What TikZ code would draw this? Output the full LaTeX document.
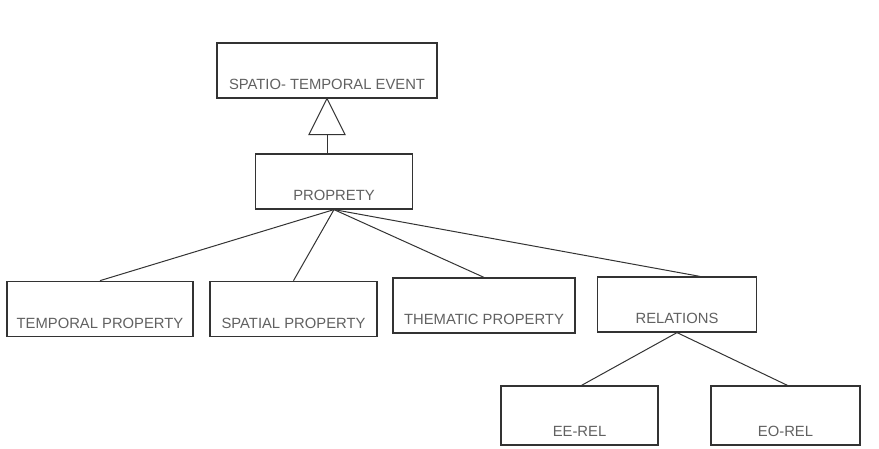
\documentclass[tikz,border=0pt]{standalone}
\usepackage{fontspec}
\setmainfont{Liberation Sans}
\begin{document}
\begin{tikzpicture}[x=1pt,y=-1pt,
  box/.style={draw=black!80, line width=1.2pt, fill=white, inner sep=0pt,
    font=\fontsize{14.8}{16}\selectfont, text=black!62,
    text depth=8.5pt},
  link/.style={draw=black!80, line width=1pt}]
\useasboundingbox (0,0) rectangle (879,449);

% class boxes (width, height); labels sit near the bottom edge
\node[box, minimum width=220pt, text height=46.5pt] (event) at (327,70.5) {SPATIO- TEMPORAL EVENT};
\node[box, minimum width=157pt, text height=46.5pt] (prop) at (334,181.5) {PROPRETY};

\node[box, minimum width=186pt, text height=47pt] (temporal) at (100,309) {TEMPORAL PROPERTY};
\node[box, minimum width=167pt, text height=47pt] (spatial) at (293.5,309) {SPATIAL PROPERTY};
\node[box, minimum width=182pt, text height=46.5pt] (thematic) at (484,305.5) {THEMATIC PROPERTY};
\node[box, minimum width=159pt, text height=46.5pt] (relations) at (677,304.5) {RELATIONS};

\node[box, minimum width=157pt, text height=50.5pt] (eerel) at (579.5,415.5) {EE-REL};
\node[box, minimum width=149pt, text height=50.5pt] (eorel) at (785.5,415.5) {EO-REL};

% generalisation arrow: hollow triangle under the parent
\coordinate (apex) at (event.south);
\coordinate (tribase) at ([yshift=-36pt]event.south);
\draw[link, fill=white] (apex) -- ([xshift=-18pt]tribase) -- ([xshift=18pt]tribase) -- cycle;
\draw[link] (tribase) -- (tribase |- prop.north);

% property branches
\draw[link] (prop.south) -- (temporal.north);
\draw[link] (prop.south) -- (spatial.north);
\draw[link] (prop.south) -- (thematic.north);
\draw[link] (prop.south) -- ([xshift=23pt]relations.north);

% relation branches
\draw[link] (relations.south) -- ([xshift=2pt]eerel.north);
\draw[link] (relations.south) -- ([xshift=2pt]eorel.north);
\end{tikzpicture}
\end{document}
